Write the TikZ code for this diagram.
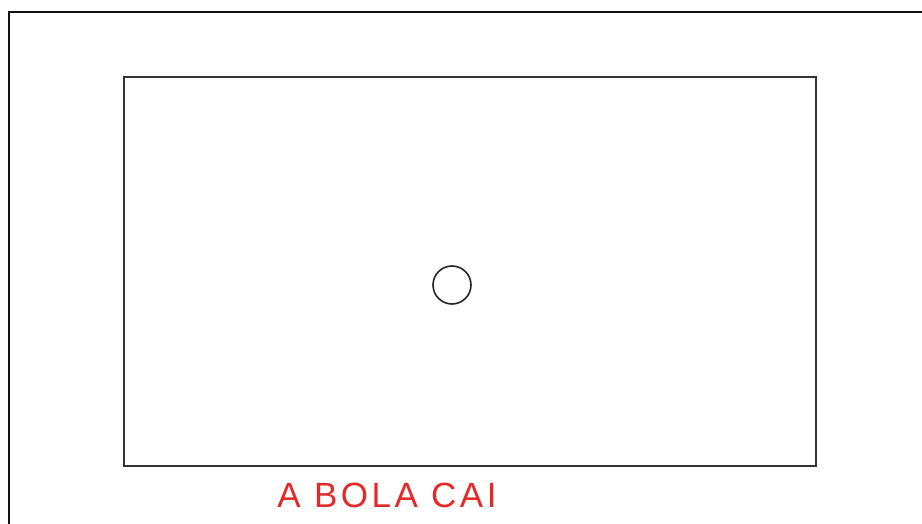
\documentclass[tikz,border=0pt]{standalone}
\usepackage{fontspec}
\setmainfont{Liberation Sans}
\usetikzlibrary{positioning}
\definecolor{cFrame}{HTML}{111111}
\definecolor{cField}{HTML}{333333}
\definecolor{cCaption}{HTML}{E52828}
\tikzset{
  framestroke/.style={draw=cFrame, line width=2pt},
  fieldbox/.style={draw=cField, line width=1.5pt, minimum width=692pt,
    minimum height=389pt, inner sep=0pt},
  ballnode/.style={circle, draw=black!85, line width=1.6pt, minimum size=38pt,
    inner sep=0pt},
  captionlabel/.style={text=cCaption, inner sep=0pt,
    font=\fontsize{35}{40}\selectfont\addfontfeature{LetterSpace=10}},
}

\begin{document}
\begin{tikzpicture}[x=1pt, y=1pt]
  \useasboundingbox (0,0) rectangle (922,-524);

  % outer screen edge (cut off at right and bottom)
  \draw[framestroke] (9,-524) -- (9,-12) -- (922,-12);

  % field and the ball
  \node[fieldbox] (field) at (470,-271.5) {};
  \node[ballnode] (ball) at (452,-285) {};

  % caption under the field
  \node[captionlabel, anchor=base] (caption) at (387,-507) {A BOLA CAI};

\end{tikzpicture}
\end{document}
